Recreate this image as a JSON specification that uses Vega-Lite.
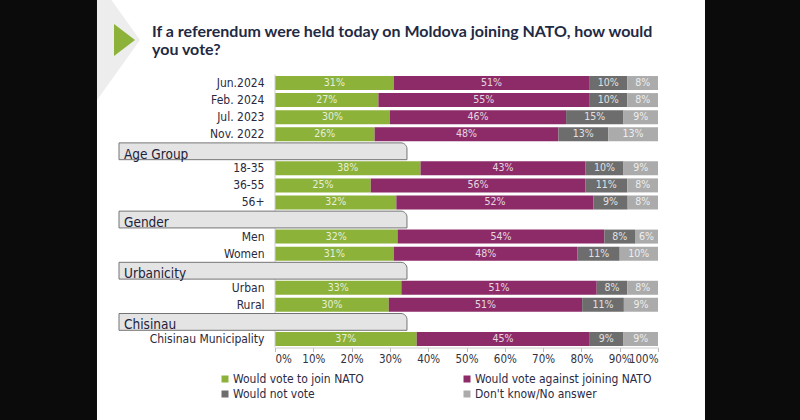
{
  "$schema": "https://vega.github.io/schema/vega-lite/v6.json",
  "width": 383,
  "height": 273,
  "autosize": {"type": "none"},
  "padding": {"left": 275, "top": 74.5, "right": 142, "bottom": 72.5},
  "background": "#0b0b0b",
  "config": {
    "view": {"stroke": null},
    "font": "DejaVu Sans Condensed",
    "axisX": {"labelOverlap": false, "grid": false, "labelFont": "DejaVu Sans Condensed", "labelFontSize": 11.5, "labelColor": "#333340", "tickColor": "#bbbbbb", "tickSize": 4, "domainColor": "#cccccc", "labelPadding": 2, "title": null},
    "axisY": {"ticks": false, "domain": false, "labelPadding": 11, "labelFont": "DejaVu Sans Condensed", "labelFontSize": 12, "labelColor": "#2a2a3c", "title": null}
  },
  "datasets": {
    "poll": [
      {"g": "Jun.2024", "r": "Would vote to join NATO", "v": 0.31},
      {"g": "Jun.2024", "r": "Would vote against joining NATO", "v": 0.51},
      {"g": "Jun.2024", "r": "Would not vote", "v": 0.10},
      {"g": "Jun.2024", "r": "Don't know/No answer", "v": 0.08},
      {"g": "Feb. 2024", "r": "Would vote to join NATO", "v": 0.27},
      {"g": "Feb. 2024", "r": "Would vote against joining NATO", "v": 0.55},
      {"g": "Feb. 2024", "r": "Would not vote", "v": 0.10},
      {"g": "Feb. 2024", "r": "Don't know/No answer", "v": 0.08},
      {"g": "Jul. 2023", "r": "Would vote to join NATO", "v": 0.30},
      {"g": "Jul. 2023", "r": "Would vote against joining NATO", "v": 0.46},
      {"g": "Jul. 2023", "r": "Would not vote", "v": 0.15},
      {"g": "Jul. 2023", "r": "Don't know/No answer", "v": 0.09},
      {"g": "Nov. 2022", "r": "Would vote to join NATO", "v": 0.26},
      {"g": "Nov. 2022", "r": "Would vote against joining NATO", "v": 0.48},
      {"g": "Nov. 2022", "r": "Would not vote", "v": 0.13},
      {"g": "Nov. 2022", "r": "Don't know/No answer", "v": 0.13},
      {"g": "18-35", "r": "Would vote to join NATO", "v": 0.38},
      {"g": "18-35", "r": "Would vote against joining NATO", "v": 0.43},
      {"g": "18-35", "r": "Would not vote", "v": 0.10},
      {"g": "18-35", "r": "Don't know/No answer", "v": 0.09},
      {"g": "36-55", "r": "Would vote to join NATO", "v": 0.25},
      {"g": "36-55", "r": "Would vote against joining NATO", "v": 0.56},
      {"g": "36-55", "r": "Would not vote", "v": 0.11},
      {"g": "36-55", "r": "Don't know/No answer", "v": 0.08},
      {"g": "56+", "r": "Would vote to join NATO", "v": 0.32},
      {"g": "56+", "r": "Would vote against joining NATO", "v": 0.52},
      {"g": "56+", "r": "Would not vote", "v": 0.09},
      {"g": "56+", "r": "Don't know/No answer", "v": 0.08},
      {"g": "Men", "r": "Would vote to join NATO", "v": 0.32},
      {"g": "Men", "r": "Would vote against joining NATO", "v": 0.54},
      {"g": "Men", "r": "Would not vote", "v": 0.08},
      {"g": "Men", "r": "Don't know/No answer", "v": 0.06},
      {"g": "Women", "r": "Would vote to join NATO", "v": 0.31},
      {"g": "Women", "r": "Would vote against joining NATO", "v": 0.48},
      {"g": "Women", "r": "Would not vote", "v": 0.11},
      {"g": "Women", "r": "Don't know/No answer", "v": 0.10},
      {"g": "Urban", "r": "Would vote to join NATO", "v": 0.33},
      {"g": "Urban", "r": "Would vote against joining NATO", "v": 0.51},
      {"g": "Urban", "r": "Would not vote", "v": 0.08},
      {"g": "Urban", "r": "Don't know/No answer", "v": 0.08},
      {"g": "Rural", "r": "Would vote to join NATO", "v": 0.30},
      {"g": "Rural", "r": "Would vote against joining NATO", "v": 0.51},
      {"g": "Rural", "r": "Would not vote", "v": 0.11},
      {"g": "Rural", "r": "Don't know/No answer", "v": 0.09},
      {"g": "Chisinau Municipality", "r": "Would vote to join NATO", "v": 0.37},
      {"g": "Chisinau Municipality", "r": "Would vote against joining NATO", "v": 0.45},
      {"g": "Chisinau Municipality", "r": "Would not vote", "v": 0.09},
      {"g": "Chisinau Municipality", "r": "Don't know/No answer", "v": 0.09}
    ],
    "headers": [{"h": "Age Group"}, {"h": "Gender"}, {"h": "Urbanicity"}, {"h": "Chisinau"}]
  },
  "layer": [
    {
      "data": {"values": [{"slide": "page"}]},
      "mark": {"type": "rect", "fill": "#ffffff"},
      "encoding": {
        "x": {"datum": -0.4648, "type": "quantitative", "scale": {"domain": [0, 1], "nice": false, "zero": false}, "axis": null},
        "x2": {"datum": 1.1227},
        "y": {"datum": -5, "type": "quantitative", "scale": {"domain": [0, 16], "reverse": true, "nice": false, "zero": false}, "axis": null},
        "y2": {"datum": 21}
      }
    },
    {
      "data": {"values": [{"slide": "shade"}]},
      "mark": {"type": "point", "shape": "M-0.358,-1L0.358,0L-0.358,1Z", "filled": true, "fill": "#ededed", "opacity": 1, "size": 14400, "strokeWidth": 0},
      "encoding": {
        "x": {"datum": -0.4086, "type": "quantitative", "scale": {"domain": [0, 1], "nice": false, "zero": false}, "axis": null},
        "y": {"datum": -2.022, "type": "quantitative", "scale": {"domain": [0, 16], "reverse": true, "nice": false, "zero": false}, "axis": null}
      }
    },
    {
      "data": {"values": [{"slide": "arrow"}]},
      "mark": {"type": "point", "shape": "M-0.656,-1L0.656,0L-0.656,1Z", "filled": true, "fill": "#8cb23a", "opacity": 1, "size": 1024, "strokeWidth": 0},
      "encoding": {
        "x": {"datum": -0.393, "type": "quantitative", "scale": {"domain": [0, 1], "nice": false, "zero": false}, "axis": null},
        "y": {"datum": -2.02, "type": "quantitative", "scale": {"domain": [0, 16], "reverse": true, "nice": false, "zero": false}, "axis": null}
      }
    },
    {
      "data": {"values": [{"t": "If a referendum were held today on Moldova joining NATO, how would\nyou vote?"}]},
      "mark": {"type": "text", "align": "left", "baseline": "alphabetic", "lineBreak": "\n", "lineHeight": 18, "fontSize": 16, "fontWeight": "bold", "font": "Lato", "color": "#1f2a44"},
      "encoding": {
        "text": {"field": "t"},
        "x": {"datum": -0.3211, "type": "quantitative", "scale": {"domain": [0, 1], "nice": false, "zero": false}, "axis": null},
        "y": {"datum": -2.227, "type": "quantitative", "scale": {"domain": [0, 16], "reverse": true, "nice": false, "zero": false}, "axis": null}
      }
    },
    {
      "data": {"name": "poll"},
      "transform": [{"stack": "v", "groupby": ["g"], "sort": [{"field": "r", "order": "descending"}], "offset": "normalize", "as": ["v0", "v1"]}],
      "mark": {"type": "bar"},
      "encoding": {
        "y": {"field": "g", "type": "nominal",
          "scale": {"domain": ["Jun.2024", "Feb. 2024", "Jul. 2023", "Nov. 2022", "Age Group", "18-35", "36-55", "56+", "Gender", "Men", "Women", "Urbanicity", "Urban", "Rural", "Chisinau", "Chisinau Municipality"], "paddingInner": 0.18, "paddingOuter": 0.09},
          "axis": {"labelExpr": "indexof(['Age Group','Gender','Urbanicity','Chisinau'], datum.label) >= 0 ? '' : datum.label", "zindex": 1}},
        "x": {"field": "v0", "type": "quantitative",
          "scale": {"domain": [0, 1], "nice": false},
          "axis": {"format": ".0%", "values": [0, 0.1, 0.2, 0.3, 0.4, 0.5, 0.6, 0.7, 0.8, 0.9, 1], "labelOverlap": false, "zindex": 1}},
        "x2": {"field": "v1"},
        "color": {"field": "r", "type": "nominal",
          "scale": {"domain": ["Would vote to join NATO", "Would vote against joining NATO", "Would not vote", "Don't know/No answer"], "range": ["#8cb23a", "#8c2b68", "#6d6d6d", "#ababab"]},
          "legend": {"orient": "none", "legendX": -56, "legendY": 298.5, "columns": 2, "direction": "horizontal", "columnPadding": 97, "rowPadding": 3, "symbolType": "square", "symbolSize": 49, "symbolStrokeWidth": 0, "labelFont": "DejaVu Sans Condensed", "labelFontSize": 12, "labelColor": "#2b2b45", "labelOffset": 2, "labelLimit": 400, "title": null, "padding": 0}}
      }
    },
    {
      "data": {"name": "poll"},
      "transform": [
        {"stack": "v", "groupby": ["g"], "sort": [{"field": "r", "order": "descending"}], "offset": "normalize", "as": ["v0", "v1"]},
        {"fold": ["v0", "v1"], "as": ["edge", "pos"]},
        {"aggregate": [{"op": "mean", "field": "pos", "as": "mid"}], "groupby": ["g", "r", "v"]}
      ],
      "mark": {"type": "text", "fontSize": 10.5, "font": "DejaVu Sans Condensed", "color": "#ffffff", "opacity": 0.8},
      "encoding": {
        "y": {"field": "g", "type": "nominal",
          "scale": {"domain": ["Jun.2024", "Feb. 2024", "Jul. 2023", "Nov. 2022", "Age Group", "18-35", "36-55", "56+", "Gender", "Men", "Women", "Urbanicity", "Urban", "Rural", "Chisinau", "Chisinau Municipality"], "paddingInner": 0.18, "paddingOuter": 0.09},
          "axis": null},
        "x": {"field": "mid", "type": "quantitative", "scale": {"domain": [0, 1], "nice": false, "zero": false}, "axis": null},
        "text": {"field": "v", "format": ".0%"}
      }
    },
    {
      "data": {"values": [{"slide": "baseline"}]},
      "mark": {"type": "rule", "color": "#cfcfcf", "strokeWidth": 1},
      "encoding": {"x": {"datum": 0, "type": "quantitative", "scale": {"domain": [0, 1], "nice": false, "zero": false}, "axis": null}}
    },
    {
      "data": {"name": "headers"},
      "mark": {"type": "rect", "fill": "#e4e4e4", "stroke": "#757575", "strokeWidth": 1, "height": {"band": 1.2}, "cornerRadiusTopRight": 6},
      "encoding": {
        "y": {"field": "h", "type": "nominal",
          "scale": {"domain": ["Jun.2024", "Feb. 2024", "Jul. 2023", "Nov. 2022", "Age Group", "18-35", "36-55", "56+", "Gender", "Men", "Women", "Urbanicity", "Urban", "Rural", "Chisinau", "Chisinau Municipality"], "paddingInner": 0.18, "paddingOuter": 0.09},
          "axis": null},
        "x": {"datum": -0.4073, "type": "quantitative", "scale": {"domain": [0, 1], "nice": false, "zero": false}, "axis": null},
        "x2": {"datum": 0.3446}
      }
    },
    {
      "data": {"name": "headers"},
      "mark": {"type": "text", "align": "left", "baseline": "alphabetic", "dx": 5, "dy": 7.5, "fontSize": 13.5, "font": "DejaVu Sans Condensed", "color": "#22223a"},
      "encoding": {
        "y": {"field": "h", "type": "nominal",
          "scale": {"domain": ["Jun.2024", "Feb. 2024", "Jul. 2023", "Nov. 2022", "Age Group", "18-35", "36-55", "56+", "Gender", "Men", "Women", "Urbanicity", "Urban", "Rural", "Chisinau", "Chisinau Municipality"], "paddingInner": 0.18, "paddingOuter": 0.09},
          "axis": null},
        "x": {"datum": -0.4073, "type": "quantitative", "scale": {"domain": [0, 1], "nice": false, "zero": false}, "axis": null},
        "text": {"field": "h"}
      }
    }
  ],
  "resolve": {"scale": {"x": "independent", "y": "independent"}}
}
